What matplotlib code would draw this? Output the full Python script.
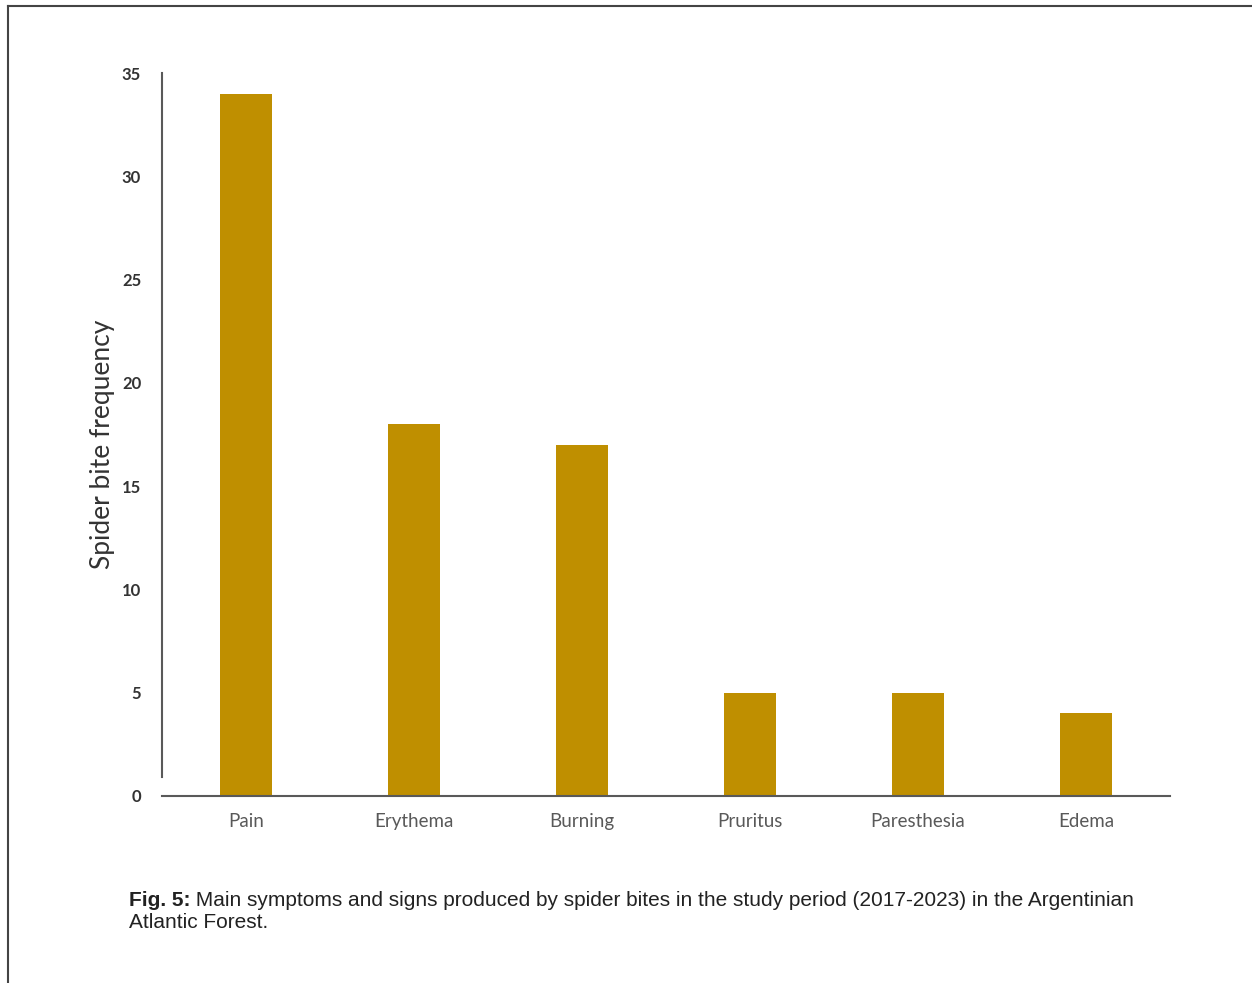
import matplotlib.pyplot as plt
from matplotlib.lines import Line2D

# data
symptoms = ['Pain', 'Erythema', 'Burning', 'Pruritus', 'Paresthesia', 'Edema']
frequency = [34, 18, 17, 5, 5, 4]
y_ticks = [0, 5, 10, 15, 20, 25, 30, 35]

W, H = 1252, 983
fig = plt.figure(figsize=(W / 100, H / 100), dpi=100)
ax = fig.add_axes([162 / W, 1 - 796 / H, (1170 - 162) / W, (796 - 73) / H])

x = list(range(len(symptoms)))
ax.bar(x, frequency, width=0.315, color='#BF8F00', zorder=2)

ax.set_xlim(-0.5, len(symptoms) - 0.5)
ax.set_ylim(0, 35)
ax.set_yticks(y_ticks)
ax.set_yticklabels([str(t) for t in y_ticks], fontfamily='Lato', fontweight='bold',
                   fontsize=12, color='#333333')
ax.set_xticks(x)
ax.set_xticklabels(symptoms, fontfamily='Lato', fontsize=13.5, color='#595959')
ax.tick_params(axis='both', length=0)
ax.tick_params(axis='y', pad=15)
ax.tick_params(axis='x', pad=12)

for s in ['top', 'right']:
    ax.spines[s].set_visible(False)
ax.spines['left'].set_bounds(0.9, 35)
ax.spines['left'].set_color('#595959')
ax.spines['bottom'].set_color('#595959')
ax.spines['left'].set_linewidth(1.5)
ax.spines['bottom'].set_linewidth(1.5)

ax.set_ylabel('Spider bite frequency', fontfamily='Lato', fontsize=19, color='#333333')
ax.yaxis.set_label_coords(-0.047, 0.486)

# frame of the page (left and top edges only)
fig.add_artist(Line2D([8 / W, 8 / W], [0, 1 - 6 / H], color='#444444', lw=1.5))
fig.add_artist(Line2D([8 / W, 1], [1 - 6 / H, 1 - 6 / H], color='#444444', lw=1.5))

# caption
cap_font = dict(fontfamily='Liberation Sans', fontsize=15, color='#222222')
bold = fig.text(129 / W, 1 - 901 / H, 'Fig. 5:', fontweight='bold', va='center', **cap_font)
ax.annotate(' Main symptoms and signs produced by spider bites in the study period (2017-2023) in the Argentinian',
            xy=(1, 0.5), xycoords=bold, va='center', ha='left', annotation_clip=False, **cap_font)
fig.text(129 / W, 1 - 923 / H, 'Atlantic Forest.', va='center', **cap_font)

fig.savefig('out.png', dpi=100)
